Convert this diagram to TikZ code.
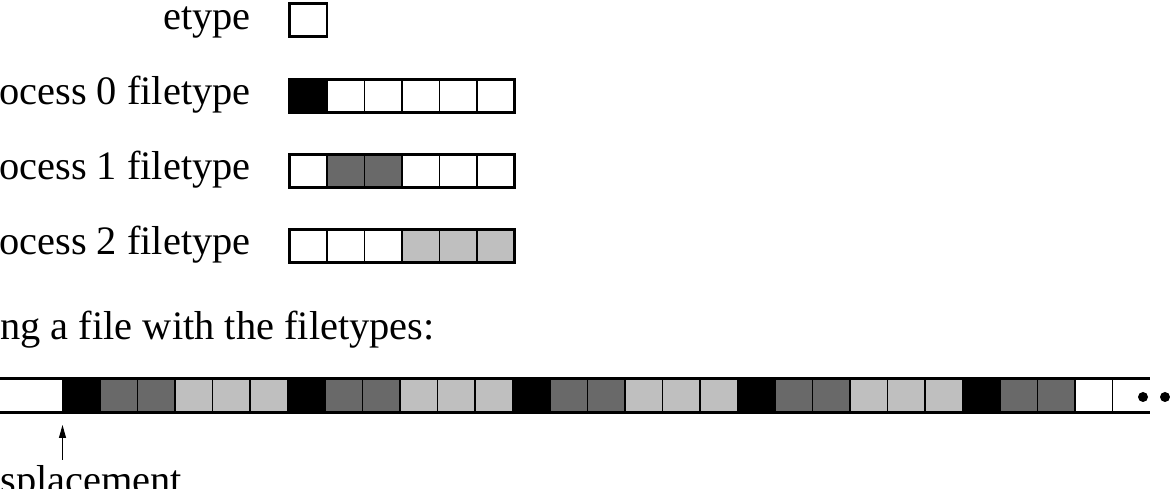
\documentclass[tikz,border=0pt]{standalone}
\usepackage{fontspec}
\setmainfont{Liberation Serif}
\usetikzlibrary{arrows.meta}
\definecolor{darkcell}{gray}{0.41}
\definecolor{lightcell}{gray}{0.75}
\tikzset{
  cell/.style={
    draw,
    line width=0.7pt,
    minimum width=0.75cm,
    minimum height=0.66cm,
    inner sep=0pt,
    outer sep=0pt,
    fill=white,
    anchor=west
  },
  strip/.style={
    minimum height=0.68cm
  },
  frame/.style={
    line width=1.7pt
  },
  tile0/.style={fill=black},
  tile1/.style={fill=darkcell},
  tile2/.style={fill=darkcell},
  tile3/.style={fill=lightcell},
  tile4/.style={fill=lightcell},
  tile5/.style={fill=lightcell},
  lbl/.style={
    anchor=base east,
    inner sep=0pt
  },
  ptr/.style={
    -{Triangle[length=0.26cm,width=0.14cm]},
    line width=0.6pt
  }
}

\begin{document}
\begin{tikzpicture}[x=0.02cm,y=0.02cm,font=\fontsize{23}{27}\selectfont]
    \path[use as bounding box, clip] (0,0) rectangle (1170,489);
    \def\cw{37.5}
    % etype
    \node[cell] (et) at (289.5,469) {};
    \draw[frame] (et.north west) rectangle (et.south east);
    \node[lbl] (lblE) at (251,459) {etype};
    % one filetype per process
    \foreach \p/\y/\b in {0/393/384, 1/318/309, 2/243/234}{
      \foreach \c in {0,...,5}{
        \pgfmathtruncatemacro\owner{(\c>0)+(\c>2)}
        \ifnum\owner=\p
          \node[cell, tile\c] (p\p c\c) at (289.5+\c*\cw,\y) {};
        \else
          \node[cell] (p\p c\c) at (289.5+\c*\cw,\y) {};
        \fi
      }
      \draw[frame] (p\p c0.north west) rectangle (p\p c5.south east);
      \node[lbl] (lbl\p) at (251,\b) {ocess \p\ filetype};
    }
    % tiling of the file
    \node[lbl, anchor=base west] (lblTile) at (0,149) {ng a file with the filetypes:};
    \foreach \k in {0,...,27}{
      \pgfmathtruncatemacro\m{mod(\k,6)}
      \ifnum\k>26
        \node[cell, strip] (s\k) at (62.5+\k*\cw,93.5) {};
      \else
        \node[cell, strip, tile\m] (s\k) at (62.5+\k*\cw,93.5) {};
      \fi
    }
    \coordinate (stripL) at (0,93.5);
    \coordinate (stripR) at (1150,93.5);
    \draw[frame] (stripL |- s0.north) -- (stripR |- s0.north);
    \draw[frame] (stripL |- s0.south) -- (stripR |- s0.south);
    \foreach \x in {1143,1165}
      \fill (\x,92) circle (0.1cm);
    % displacement
    \node[lbl, anchor=base west] (lblDisp) at (0,-5) {splacement};
    \coordinate (dispFoot) at (62.5,29);
    \draw[ptr] (dispFoot) -- ([yshift=-0.25cm]s0.south west);
\end{tikzpicture}
\end{document}
